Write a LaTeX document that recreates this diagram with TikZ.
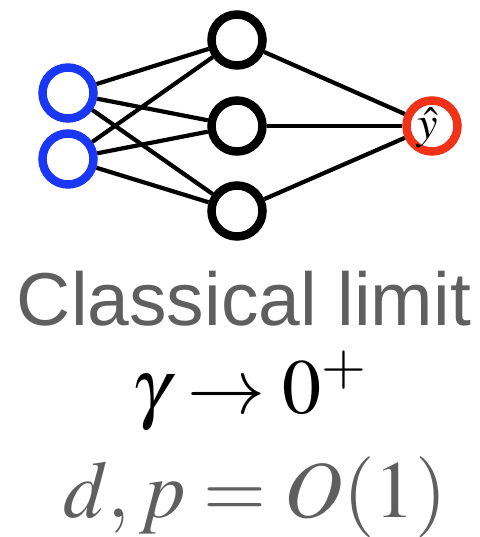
\documentclass[tikz,border=0pt]{standalone}
\usepackage{mathptmx}
\usepackage{fontspec}
\newfontfamily\helv{Liberation Sans}
\usetikzlibrary{positioning}
\usepackage{xcolor}
\definecolor{inblue}{RGB}{25,55,245}
\definecolor{outred}{RGB}{240,50,25}
\definecolor{txtgray}{RGB}{95,95,95}

\begin{document}
\begin{tikzpicture}[x=1pt, y=-1pt,
  neuron/.style={circle, draw, line width=8.5pt, minimum size=51pt, inner sep=0pt},
  synapse/.style={line width=4.2pt}]
  \useasboundingbox (0,0) rectangle (479,537);
  % input layer
  \node[neuron, draw=inblue] (in1) at (68,93) {};
  \node[neuron, draw=inblue] (in2) at (68,159) {};
  % hidden layer
  \node[neuron] (hid1) at (237,40) {};
  \node[neuron] (hid2) at (237,126) {};
  \node[neuron] (hid3) at (237,211) {};
  % output
  \node[neuron, draw=outred] (out) at (432,126) {};
  \node[font=\fontsize{46}{50}\selectfont, inner sep=0pt] (yhat) at (428,128) {$\hat{y}$};
  % connections
  \foreach \i in {1,2}
    \foreach \j in {1,2,3}
      \draw[synapse] (in\i) -- (hid\j);
  \foreach \j in {1,2,3}
    \draw[synapse] (hid\j) -- (out);
  % labels
  \node[anchor=base, text=txtgray, font=\helv\fontsize{75}{88}\selectfont] (title) at (244,325) {Classical limit};
  \node[anchor=base, font=\fontsize{78}{90}\selectfont] (gam) at (249,413) {$\gamma \to 0^+$};
  \node[anchor=base, text=txtgray, font=\fontsize{81}{95}\selectfont] (scal) at (255,517) {$d, p = O(1)$};
\end{tikzpicture}
\end{document}
